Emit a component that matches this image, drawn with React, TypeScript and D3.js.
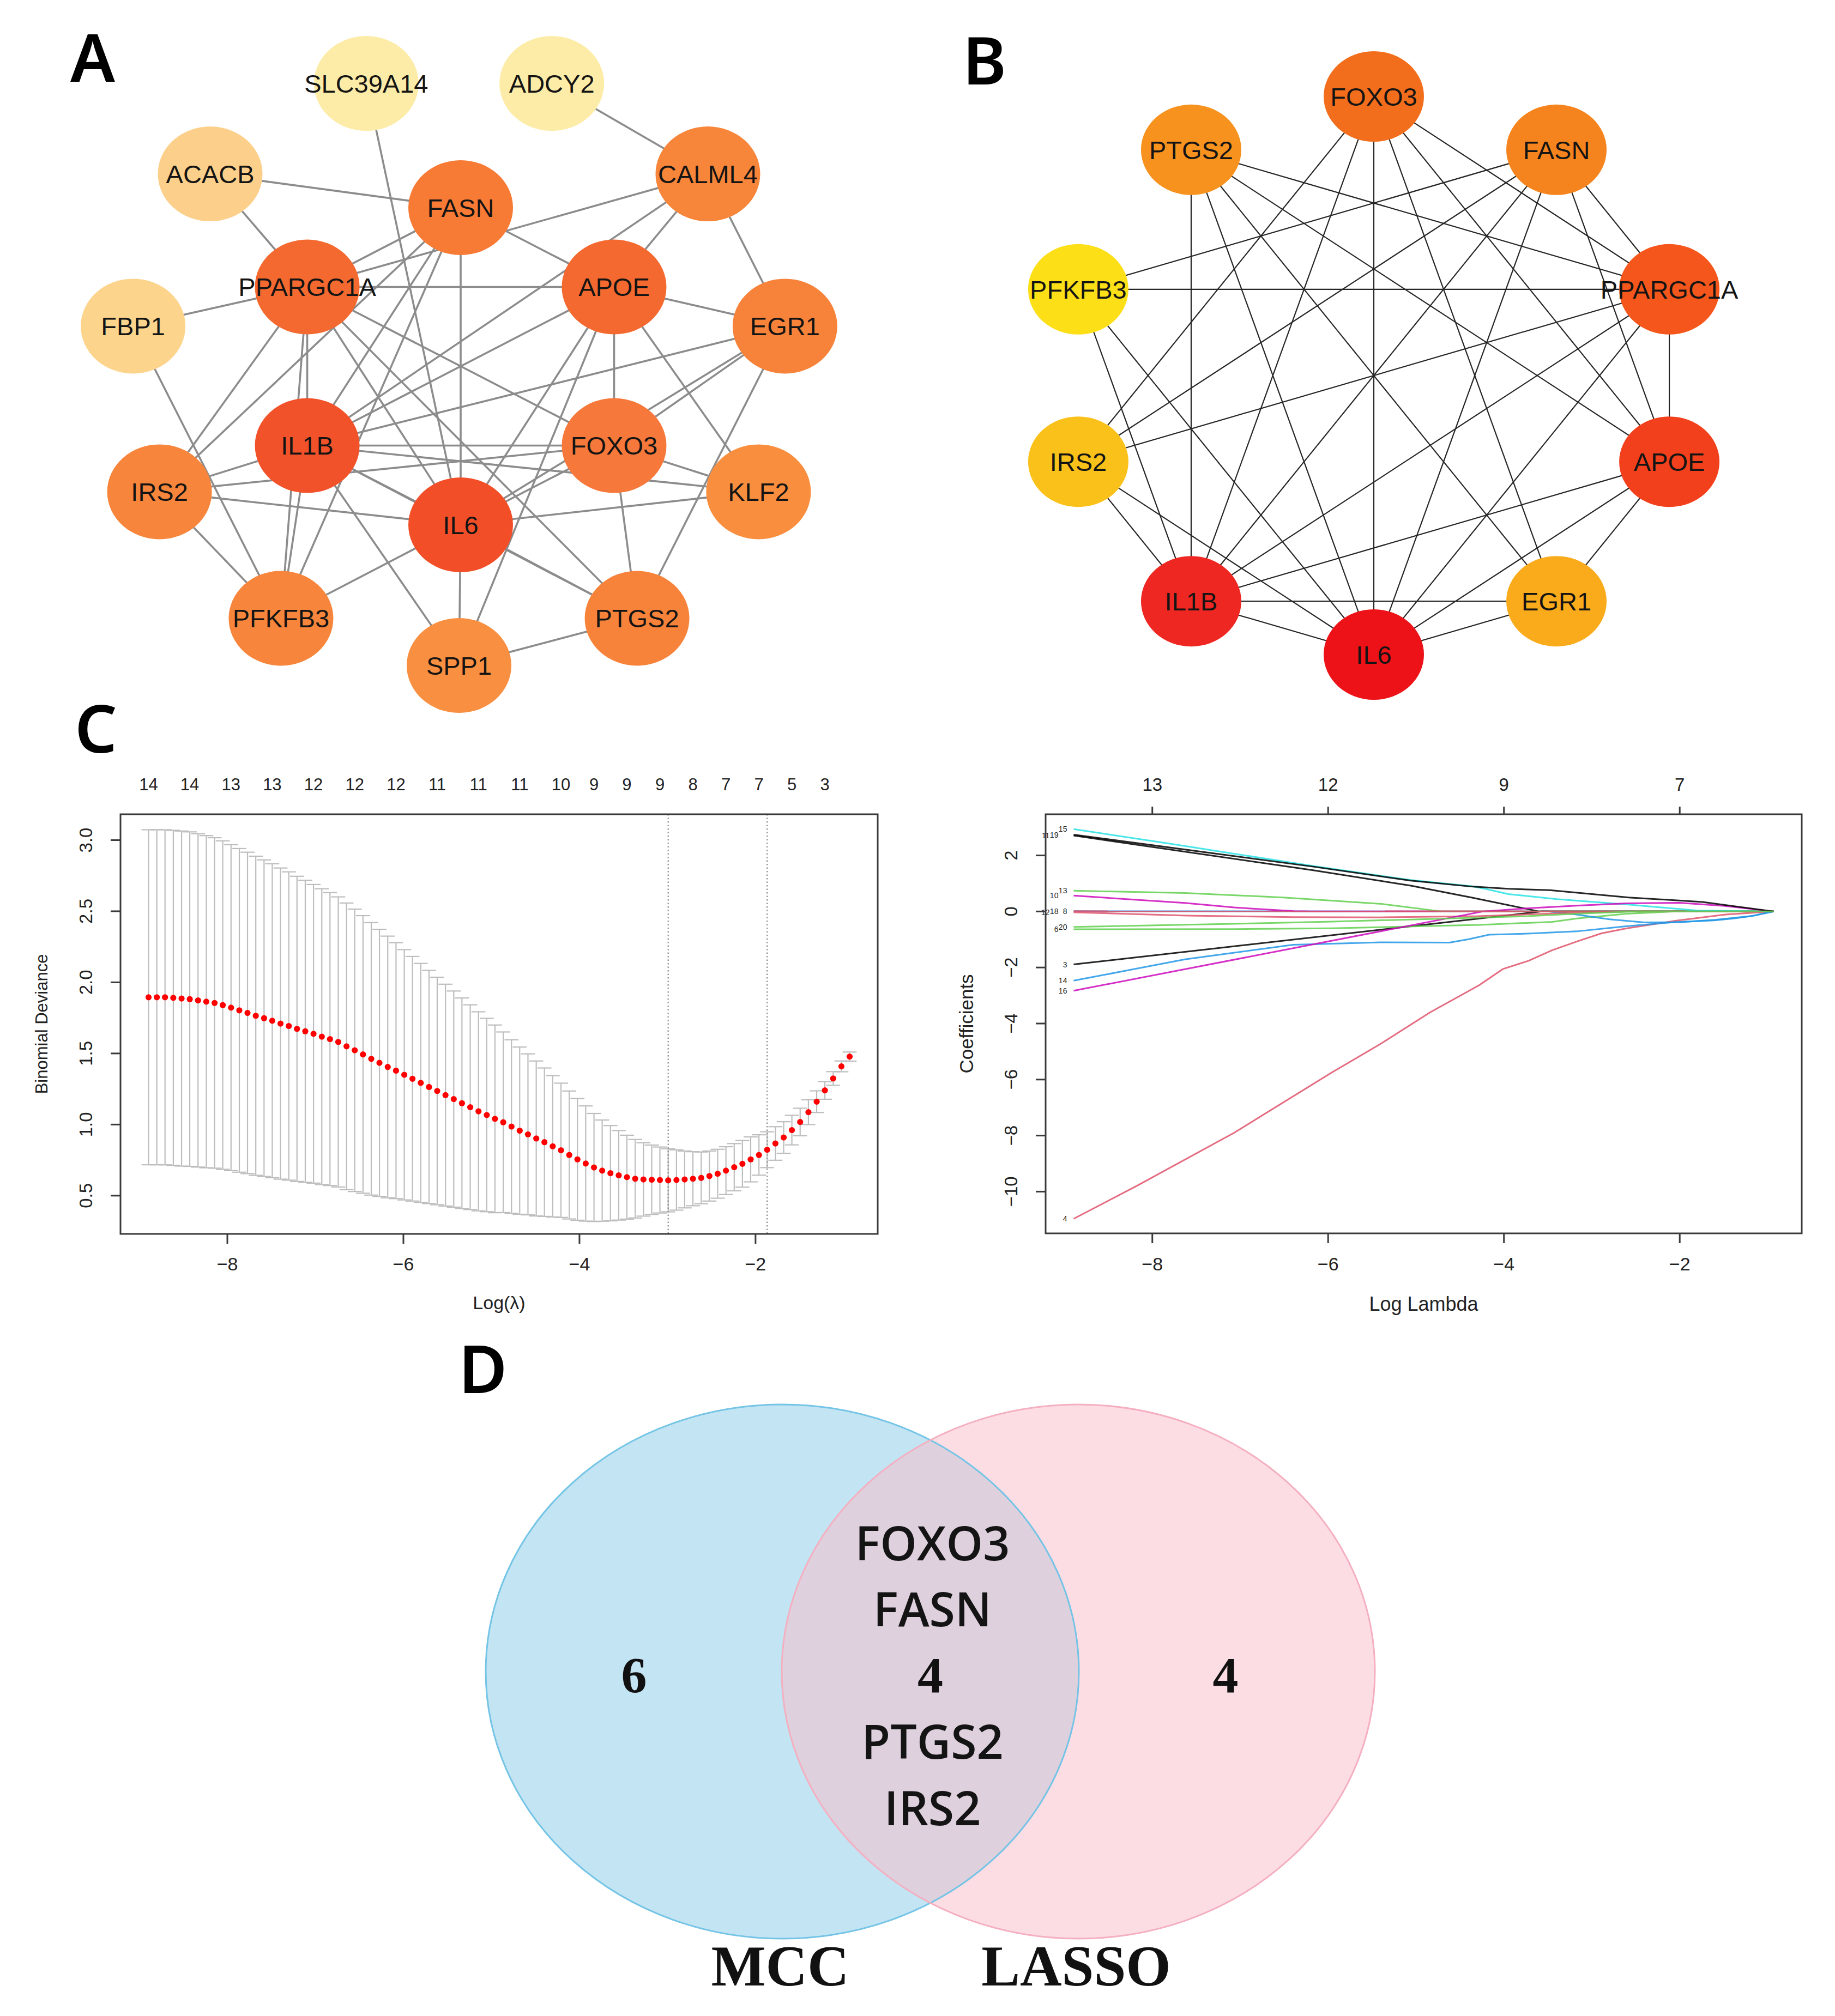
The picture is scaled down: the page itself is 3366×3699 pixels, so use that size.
// @ts-nocheck
import { useEffect } from "react";
import * as d3 from "d3";

const W = 3366;
const H = 3699;

const SANS = "'Liberation Sans', Arial, Helvetica, sans-serif";
const SERIF = "'Liberation Serif', 'Times New Roman', serif";
const LETTER = "'Noto Sans', 'Open Sans', sans-serif";
const VENN_SANS = "'Open Sans', 'Noto Sans', sans-serif";

// ---------------- A: PPI network (concentric layout) ----------------
const aOuterNodes = ["SLC39A14", "ADCY2", "CALML4", "EGR1", "KLF2", "PTGS2", "SPP1", "PFKFB3", "IRS2", "FBP1", "ACACB"];
const aInnerNodes = ["FASN", "APOE", "FOXO3", "IL6", "IL1B", "PPARGC1A"];
const aEdges = [
  ["ADCY2", "CALML4"], ["SLC39A14", "IL6"], ["ACACB", "FASN"], ["ACACB", "PPARGC1A"],
  ["FBP1", "PPARGC1A"], ["FBP1", "PFKFB3"], ["CALML4", "EGR1"], ["CALML4", "APOE"],
  ["CALML4", "PPARGC1A"], ["CALML4", "IL1B"], ["FASN", "APOE"], ["FASN", "IL6"],
  ["FASN", "PPARGC1A"], ["FASN", "IL1B"], ["FASN", "IRS2"], ["FASN", "PFKFB3"],
  ["PPARGC1A", "APOE"], ["PPARGC1A", "IL1B"], ["PPARGC1A", "IRS2"], ["PPARGC1A", "IL6"],
  ["PPARGC1A", "FOXO3"], ["PPARGC1A", "PTGS2"], ["PPARGC1A", "PFKFB3"], ["APOE", "EGR1"],
  ["APOE", "FOXO3"], ["APOE", "KLF2"], ["APOE", "IL1B"], ["APOE", "IL6"], ["APOE", "SPP1"],
  ["EGR1", "IL1B"], ["EGR1", "FOXO3"], ["EGR1", "IL6"], ["EGR1", "PTGS2"],
  ["IL1B", "FOXO3"], ["IL1B", "IRS2"], ["IL1B", "IL6"], ["IL1B", "KLF2"], ["IL1B", "PFKFB3"],
  ["IL1B", "SPP1"], ["IL1B", "PTGS2"], ["FOXO3", "IRS2"], ["FOXO3", "KLF2"], ["FOXO3", "PTGS2"],
  ["FOXO3", "IL6"], ["IRS2", "IL6"], ["IRS2", "PFKFB3"], ["IL6", "KLF2"], ["IL6", "PFKFB3"],
  ["IL6", "SPP1"], ["IL6", "PTGS2"], ["SPP1", "PTGS2"],
];
const aFill = {
  SLC39A14: "#FDECA7", ADCY2: "#FDECA7", ACACB: "#FCD08A", FBP1: "#FCD48C",
  FASN: "#F77A35", CALML4: "#F7853A", PPARGC1A: "#F4692F", APOE: "#F4692F",
  EGR1: "#F78239", IL1B: "#F2522A", FOXO3: "#F6783A", IRS2: "#F7853B",
  KLF2: "#F98E3F", IL6: "#F24F29", PFKFB3: "#F7853B", PTGS2: "#F7833B", SPP1: "#F98F40",
};

// ---------------- B: top-10 hub genes (circle layout) ----------------
const bNodes = ["FOXO3", "FASN", "PPARGC1A", "APOE", "EGR1", "IL6", "IL1B", "IRS2", "PFKFB3", "PTGS2"];
const bEdges = [
  ["FOXO3", "IRS2"], ["FOXO3", "IL1B"], ["FOXO3", "IL6"], ["FOXO3", "EGR1"], ["FOXO3", "APOE"],
  ["FOXO3", "PPARGC1A"], ["PTGS2", "IL1B"], ["PTGS2", "PPARGC1A"], ["PTGS2", "APOE"],
  ["PTGS2", "IL6"], ["PTGS2", "EGR1"], ["FASN", "PFKFB3"], ["FASN", "IRS2"], ["FASN", "IL1B"],
  ["FASN", "IL6"], ["FASN", "PPARGC1A"], ["FASN", "APOE"], ["PFKFB3", "PPARGC1A"],
  ["PFKFB3", "IL1B"], ["PFKFB3", "IL6"], ["PPARGC1A", "IRS2"], ["PPARGC1A", "IL1B"],
  ["PPARGC1A", "APOE"], ["PPARGC1A", "IL6"], ["IRS2", "IL1B"], ["IRS2", "IL6"],
  ["APOE", "IL1B"], ["APOE", "EGR1"], ["APOE", "IL6"], ["IL1B", "EGR1"], ["IL1B", "IL6"],
  ["EGR1", "IL6"],
];
const bFill = {
  FOXO3: "#F26E1C", PTGS2: "#F7921F", FASN: "#F6841E", PFKFB3: "#FCDF17", PPARGC1A: "#F5561B",
  IRS2: "#FAC11B", APOE: "#F23F1C", IL1B: "#EE2722", EGR1: "#F9AB1B", IL6: "#EC1217",
};

// ---------------- C left: cv.glmnet binomial deviance ----------------
const cvLogLambda = [
  -8.895, -8.801, -8.708, -8.614, -8.520, -8.427, -8.333, -8.239, -8.145, -8.052,
  -7.958, -7.864, -7.771, -7.677, -7.583, -7.490, -7.396, -7.302, -7.209, -7.115,
  -7.021, -6.927, -6.834, -6.740, -6.646, -6.553, -6.459, -6.365, -6.272, -6.178,
  -6.084, -5.990, -5.897, -5.803, -5.709, -5.616, -5.522, -5.428, -5.335, -5.241,
  -5.147, -5.053, -4.960, -4.866, -4.772, -4.679, -4.585, -4.491, -4.398, -4.304,
  -4.210, -4.116, -4.023, -3.929, -3.835, -3.742, -3.648, -3.554, -3.461, -3.367,
  -3.273, -3.179, -3.086, -2.992, -2.898, -2.805, -2.711, -2.617, -2.524, -2.430,
  -2.336, -2.242, -2.149, -2.055, -1.961, -1.868, -1.774, -1.680, -1.587, -1.493,
  -1.399, -1.305, -1.212, -1.118, -1.024, -0.931,
];
const cvMean = [
  1.895, 1.895, 1.895, 1.891, 1.886, 1.882, 1.873, 1.864, 1.855, 1.840,
  1.822, 1.803, 1.785, 1.765, 1.748, 1.730, 1.710, 1.693, 1.673, 1.656,
  1.638, 1.618, 1.601, 1.581, 1.550, 1.522, 1.493, 1.462, 1.434, 1.405,
  1.379, 1.350, 1.322, 1.293, 1.264, 1.236, 1.207, 1.179, 1.150, 1.122,
  1.093, 1.067, 1.040, 1.016, 0.986, 0.957, 0.931, 0.902, 0.876, 0.847,
  0.819, 0.786, 0.755, 0.726, 0.698, 0.676, 0.658, 0.643, 0.630, 0.619,
  0.614, 0.612, 0.610, 0.608, 0.610, 0.614, 0.619, 0.625, 0.638, 0.654,
  0.676, 0.700, 0.724, 0.755, 0.786, 0.823, 0.867, 0.909, 0.961, 1.018,
  1.087, 1.161, 1.240, 1.324, 1.409, 1.478,
];
const cvSd = [
  1.178, 1.178, 1.178, 1.178, 1.178, 1.176, 1.172, 1.168, 1.162, 1.155,
  1.146, 1.138, 1.130, 1.122, 1.113, 1.104, 1.094, 1.084, 1.073, 1.062,
  1.050, 1.040, 1.030, 1.020, 1.008, 0.993, 0.976, 0.958, 0.939, 0.920,
  0.900, 0.880, 0.860, 0.840, 0.820, 0.800, 0.780, 0.760, 0.740, 0.720,
  0.700, 0.680, 0.660, 0.635, 0.610, 0.588, 0.566, 0.545, 0.522, 0.497,
  0.472, 0.450, 0.428, 0.405, 0.380, 0.356, 0.335, 0.315, 0.295, 0.276,
  0.258, 0.244, 0.232, 0.222, 0.212, 0.200, 0.190, 0.182, 0.176, 0.172,
  0.168, 0.166, 0.164, 0.158, 0.142, 0.126, 0.118, 0.111, 0.104, 0.097,
  0.087, 0.076, 0.062, 0.048, 0.038, 0.032,
];
const cvTopIdx = [0, 5, 10, 15, 20, 25, 30, 35, 40, 45, 50, 54, 58, 62, 66, 70, 74, 78, 82];
const cvTopDf = [14, 14, 13, 13, 12, 12, 12, 11, 11, 11, 10, 9, 9, 9, 8, 7, 7, 5, 3];
const lambdaMinLog = -2.992;
const lambda1seLog = -1.868;
const cvYTicks = [0.5, 1.0, 1.5, 2.0, 2.5, 3.0];
const logTicks = [-8, -6, -4, -2];

// ---------------- C right: coefficient paths ----------------
const coef15 = [[-8.895, 2.94], [-7.8, 2.42], [-6.17, 1.62], [-5.06, 1.12], [-4.37, 0.9], [-4.2, 0.8], [-3.95, 0.62], [-3.4, 0.44], [-2.6, 0.25], [-1.8, 0.03], [-0.931, 0]];
const coef19 = [[-8.895, 2.74], [-6.17, 1.6], [-5.06, 1.1], [-4.37, 0.89], [-3.95, 0.81], [-3.48, 0.76], [-2.58, 0.5], [-1.74, 0.34], [-0.931, 0]];
const coef11 = [[-8.895, 2.71], [-6.17, 1.47], [-5.06, 0.92], [-4.37, 0.5], [-3.6, 0], [-0.931, 0]];
const coef13 = [[-8.895, 0.74], [-7.63, 0.66], [-6.51, 0.5], [-5.39, 0.27], [-4.71, 0], [-0.931, 0]];
const coef10 = [[-8.895, 0.565], [-7.63, 0.305], [-7.07, 0.143], [-6.39, 0.01], [-6.2, 0], [-0.931, 0]];
const coef18 = [[-8.895, 0.01], [-0.931, 0]];
const coef12 = [[-8.895, -0.03], [-7.6, -0.15], [-6.4, -0.2], [-5.4, -0.21], [-4.3, -0.17], [-3.7, -0.1], [-3.0, -0.03], [-2.5, 0], [-0.931, 0]];
const coef8 = [[-8.895, 0.01], [-3.5, 0], [-3.2, -0.1], [-2.8, -0.28], [-2.4, -0.39], [-2.0, -0.38], [-1.6, -0.3], [-1.2, -0.17], [-0.931, 0]];
const coef20 = [[-8.895, -0.55], [-7.07, -0.44], [-5.96, -0.36], [-4.84, -0.27], [-3.73, -0.17], [-3.17, -0.08], [-2.5, 0], [-0.931, 0]];
const coef6 = [[-8.895, -0.635], [-7.07, -0.63], [-5.96, -0.6], [-4.84, -0.52], [-4.28, -0.48], [-3.45, -0.37], [-3.17, -0.25], [-2.6, -0.08], [-2.05, 0], [-0.931, 0]];
const coef3 = [[-8.895, -1.89], [-3.57, 0], [-0.931, 0]];
const coef14 = [[-8.895, -2.47], [-7.63, -1.71], [-6.4, -1.19], [-5.4, -1.1], [-4.62, -1.11], [-4.4, -0.99], [-4.17, -0.83], [-3.73, -0.79], [-3.17, -0.71], [-2.61, -0.53], [-2.06, -0.38], [-1.61, -0.32], [-1.39, -0.25], [-1.17, -0.16], [-0.931, 0]];
const coef16 = [[-8.895, -2.83], [-4.24, 0], [-3.7, 0.12], [-3.15, 0.21], [-2.6, 0.29], [-2.0, 0.31], [-1.5, 0.2], [-0.931, 0]];
const coef4 = [[-8.895, -10.97], [-8.18, -9.8], [-7.07, -7.9], [-5.96, -5.75], [-5.4, -4.72], [-4.84, -3.6], [-4.28, -2.63], [-4.01, -2.05], [-3.72, -1.76], [-3.45, -1.38], [-3.15, -1.05], [-2.89, -0.78], [-2.6, -0.6], [-2.04, -0.33], [-1.48, -0.11], [-0.931, 0]];
const coefPaths = [
  ["3", coef3], ["4", coef4], ["6", coef6], ["8", coef8], ["10", coef10], ["11", coef11],
  ["12", coef12], ["13", coef13], ["14", coef14], ["15", coef15], ["16", coef16],
  ["18", coef18], ["19", coef19], ["20", coef20],
];
const coefColor = {
  "3": "#000000", "4": "#DF536B", "6": "#61D04F", "8": "#2297E6", "10": "#CD0BBC",
  "11": "#000000", "12": "#DF536B", "13": "#61D04F", "14": "#2297E6", "15": "#28E2E5",
  "16": "#CD0BBC", "18": "#DF536B", "19": "#000000", "20": "#61D04F",
};
const coefYTicks = [2, 0, -2, -4, -6, -8, -10];
const coefTopDf = [13, 12, 9, 7];

// ---------------- D: Venn ----------------
const vennSets = ["MCC", "LASSO"];
const vennOnly = [6, 4];
const vennShared = 4;
const vennSharedGenes = ["FOXO3", "FASN", "PTGS2", "IRS2"];

const minus = (v) => (v < 0 ? "\u2212" + Math.abs(v) : String(v));

function ring(names, cx, cy, rx, ry, startDeg) {
  const ang = d3.scaleLinear().domain([0, names.length]).range([startDeg, startDeg + 360]);
  return names.map((name, i) => {
    const a = (ang(i) * Math.PI) / 180;
    return { name, x: cx + rx * Math.sin(a), y: cy - ry * Math.cos(a) };
  });
}

function Network({ nodes, edges, fill, nrx, nry, stroke, strokeWidth }) {
  const pos = new Map(nodes.map((n) => [n.name, n]));
  return (
    <g>
      {edges.map(([s, t], i) => {
        const a = pos.get(s);
        const b = pos.get(t);
        return <line key={i} x1={a.x} y1={a.y} x2={b.x} y2={b.y} stroke={stroke} strokeWidth={strokeWidth} />;
      })}
      {nodes.map((n) => (
        <ellipse key={n.name} cx={n.x} cy={n.y} rx={nrx} ry={nry} fill={fill[n.name]} />
      ))}
      {nodes.map((n) => (
        <text key={"t" + n.name} x={n.x} y={n.y} dy="0.36em" textAnchor="middle" fontFamily={SANS} fontSize={47} fill="#141414">
          {n.name}
        </text>
      ))}
    </g>
  );
}

function PanelA() {
  const nodes = [
    ...ring(aOuterNodes, 842, 676, 604, 545, -360 / 22),
    ...ring(aInnerNodes, 845, 672, 325, 291, 0),
  ];
  return <Network nodes={nodes} edges={aEdges} fill={aFill} nrx={96} nry={87} stroke="#8C8C8C" strokeWidth={3.6} />;
}

function PanelB() {
  const nodes = ring(bNodes, 2520, 689, 570, 512, 0);
  return <Network nodes={nodes} edges={bEdges} fill={bFill} nrx={92} nry={83} stroke="#262626" strokeWidth={2.2} />;
}

function CvPlot() {
  const x = d3.scaleLinear().domain([-9.214, -0.612]).range([221, 1610]);
  const y = d3.scaleLinear().domain([0.231, 3.182]).range([2264, 1494]);
  const barw = 0.01 * (d3.max(cvLogLambda) - d3.min(cvLogLambda));
  const [x0, x1] = x.range();
  const [yb, yt] = y.range();
  return (
    <g fontFamily={SANS}>
      {cvLogLambda.map((l, i) => {
        const up = y(cvMean[i] + cvSd[i]);
        const lo = y(cvMean[i] - cvSd[i]);
        return (
          <g key={i} stroke="#BDBDBD" strokeWidth={2.2}>
            <line x1={x(l)} x2={x(l)} y1={up} y2={lo} />
            <line x1={x(l - barw)} x2={x(l + barw)} y1={up} y2={up} />
            <line x1={x(l - barw)} x2={x(l + barw)} y1={lo} y2={lo} />
          </g>
        );
      })}
      {[lambdaMinLog, lambda1seLog].map((l) => (
        <line key={l} x1={x(l)} x2={x(l)} y1={yt} y2={yb} stroke="#8A8A8A" strokeWidth={2.2} strokeDasharray="2.5 4" />
      ))}
      {cvLogLambda.map((l, i) => (
        <circle key={"p" + i} cx={x(l)} cy={y(cvMean[i])} r={5.6} fill="#FF0000" />
      ))}
      <rect x={x0} y={yt} width={x1 - x0} height={yb - yt} fill="none" stroke="#3A3A3A" strokeWidth={3} />
      {logTicks.map((t) => (
        <g key={t}>
          <line x1={x(t)} x2={x(t)} y1={yb} y2={yb + 18} stroke="#3A3A3A" strokeWidth={3} />
          <text x={x(t)} y={2319} dy="0.36em" textAnchor="middle" fontSize={34} fill="#222">{minus(t)}</text>
        </g>
      ))}
      {cvYTicks.map((t) => (
        <g key={t}>
          <line x1={x0} x2={x0 - 18} y1={y(t)} y2={y(t)} stroke="#3A3A3A" strokeWidth={3} />
          <text transform={`translate(157,${y(t)}) rotate(-90)`} dy="0.36em" textAnchor="middle" fontSize={33} fill="#222">
            {d3.format(".1f")(t)}
          </text>
        </g>
      ))}
      {cvTopIdx.map((idx, k) => (
        <text key={"top" + k} x={x(cvLogLambda[idx])} y={1439} dy="0.36em" textAnchor="middle" fontSize={31} fill="#222">
          {cvTopDf[k]}
        </text>
      ))}
      <text x={(x0 + x1) / 2} y={2390} dy="0.36em" textAnchor="middle" fontSize={34} fill="#222">Log(λ)</text>
      <text transform={`translate(76,${(yt + yb) / 2}) rotate(-90)`} dy="0.36em" textAnchor="middle" fontSize={31} fill="#222">
        Binomial Deviance
      </text>
    </g>
  );
}

function CoefPlot() {
  const x = d3.scaleLinear().domain([-9.214, -0.612]).range([1918, 3305]);
  const y = d3.scaleLinear().domain([-11.49, 3.47]).range([2263, 1494]);
  const [x0, x1] = x.range();
  const [yb, yt] = y.range();
  const line = d3.line().x((d) => x(d[0])).y((d) => y(d[1]));
  // path labels at the left end; labels that would sit on top of each other are staggered sideways
  const labs = coefPaths
    .map(([lab, pts]) => ({ lab, px: x(pts[0][0]), py: y(pts[0][1]) }))
    .sort((a, b) => a.py - b.py);
  let prevY = -1e9;
  let k = 0;
  labs.forEach((d) => {
    k = d.py - prevY < 12 ? k + 1 : 0;
    d.shift = k;
    prevY = d.py;
  });
  return (
    <g fontFamily={SANS}>
      {coefPaths.map(([lab, pts]) => (
        <path key={lab} d={line(pts)} fill="none" stroke={coefColor[lab]} strokeWidth={3} strokeOpacity={0.85} />
      ))}
      {labs.map((d) => (
        <text key={"l" + d.lab} x={d.px - 12 - d.shift * 16} y={d.py} dy="0.36em" textAnchor="end" fontSize={14} fill="#222">
          {d.lab}
        </text>
      ))}
      <rect x={x0} y={yt} width={x1 - x0} height={yb - yt} fill="none" stroke="#3A3A3A" strokeWidth={3} />
      {logTicks.map((t, k2) => (
        <g key={t}>
          <line x1={x(t)} x2={x(t)} y1={yb} y2={yb + 18} stroke="#3A3A3A" strokeWidth={3} />
          <text x={x(t)} y={2319} dy="0.36em" textAnchor="middle" fontSize={34} fill="#222">{minus(t)}</text>
          <line x1={x(t)} x2={x(t)} y1={yt} y2={yt - 14} stroke="#3A3A3A" strokeWidth={3} />
          <text x={x(t)} y={1439} dy="0.36em" textAnchor="middle" fontSize={33} fill="#222">{coefTopDf[k2]}</text>
        </g>
      ))}
      {coefYTicks.map((t) => (
        <g key={t}>
          <line x1={x0} x2={x0 - 18} y1={y(t)} y2={y(t)} stroke="#3A3A3A" strokeWidth={3} />
          <text transform={`translate(1854,${y(t)}) rotate(-90)`} dy="0.36em" textAnchor="middle" fontSize={33} fill="#222">
            {minus(t)}
          </text>
        </g>
      ))}
      <text x={(x0 + x1) / 2} y={2392} dy="0.36em" textAnchor="middle" fontSize={36} fill="#222">Log Lambda</text>
      <text transform={`translate(1772,${(yt + yb) / 2}) rotate(-90)`} dy="0.36em" textAnchor="middle" fontSize={35} fill="#222">
        Coefficients
      </text>
    </g>
  );
}

function Venn() {
  const cx = d3.scalePoint().domain(vennSets).range([1435, 1978]);
  const cy = 3067;
  const geneY = d3.scalePoint().domain(["g0", "g1", "mid", "g2", "g3"]).range([2832, 3318]);
  const slots = ["g0", "g1", "g2", "g3"];
  const fills = ["rgb(133,201,231)", "rgb(251,187,201)"];
  const strokes = ["#74C4E6", "#F4AFC0"];
  const midX = (cx("MCC") + cx("LASSO")) / 2;
  return (
    <g>
      {vennSets.map((s, i) => (
        <ellipse key={s} cx={cx(s)} cy={cy} rx={544} ry={490} fill={fills[i]} fillOpacity={0.5} />
      ))}
      {vennSets.map((s, i) => (
        <ellipse key={"o" + s} cx={cx(s)} cy={cy} rx={544} ry={490} fill="none" stroke={strokes[i]} strokeWidth={3} />
      ))}
      {vennSets.map((s, i) => (
        <text key={"n" + s} x={cx(s) + (i === 0 ? -272 : 270)} y={3072} dy="0.35em" textAnchor="middle"
          fontFamily={SERIF} fontWeight="bold" fontSize={94} fill="#111">
          {vennOnly[i]}
        </text>
      ))}
      <text x={midX} y={3072} dy="0.35em" textAnchor="middle" fontFamily={SERIF} fontWeight="bold" fontSize={94} fill="#111">
        {vennShared}
      </text>
      {vennSharedGenes.map((g, i) => (
        <text key={g} x={midX + 4} y={geneY(slots[i])} dy="0.36em" textAnchor="middle" fontFamily={VENN_SANS}
          fontWeight={600} fontSize={86} fill="#141414">
          {g}
        </text>
      ))}
      {vennSets.map((s) => (
        <text key={"lab" + s} x={cx(s) - 4} y={3606} dy="0.35em" textAnchor="middle" fontFamily={SERIF} fontWeight="bold" fontSize={106} fill="#111">
          {s}
        </text>
      ))}
    </g>
  );
}

export default function App() {
  useEffect(() => {
    document.body.style.margin = "0";
  }, []);
  const letters = [["A", 170, 150], ["B", 1806, 155], ["C", 176, 1381], ["D", 886, 2556]];
  return (
    <svg width={W} height={H} viewBox={`0 0 ${W} ${H}`} style={{ display: "block", background: "#fff" }}>
      <rect width={W} height={H} fill="#ffffff" />
      <PanelA />
      <PanelB />
      <CvPlot />
      <CoefPlot />
      <Venn />
      {letters.map(([t, lx, ly]) => (
        <text key={t} x={lx} y={ly} textAnchor="middle" fontFamily={LETTER} fontWeight={600} fontSize={122} fill="#000">
          {t}
        </text>
      ))}
    </svg>
  );
}
